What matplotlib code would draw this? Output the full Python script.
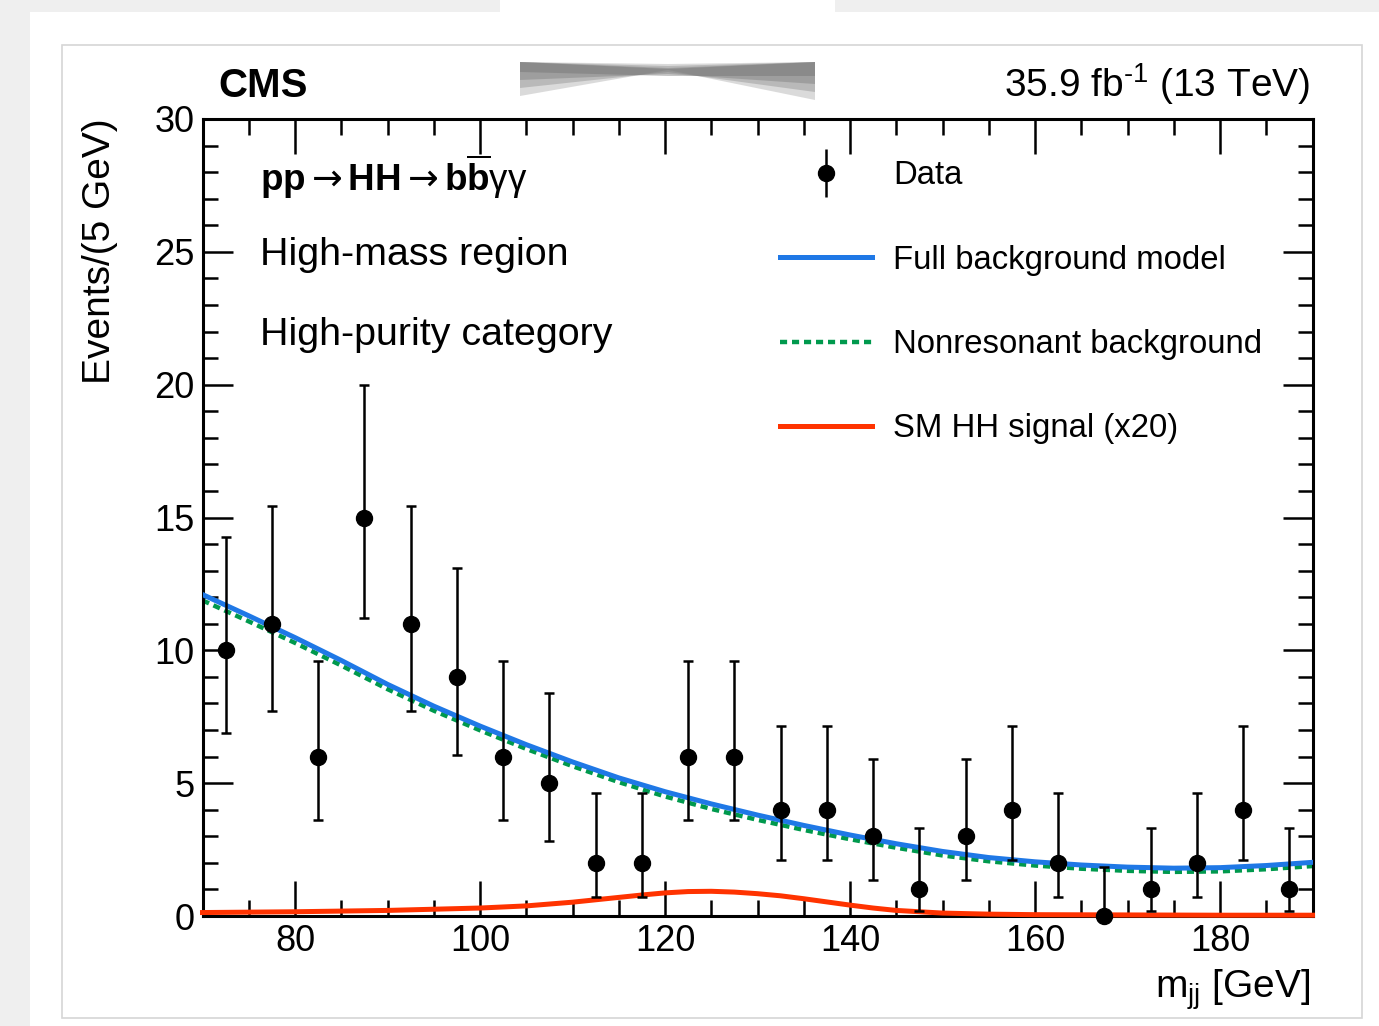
import matplotlib
matplotlib.use("Agg")
from matplotlib import pyplot as plt
from matplotlib.lines import Line2D
from matplotlib.legend_handler import HandlerTuple
from matplotlib.patches import Rectangle, FancyBboxPatch, Polygon
import numpy as np

plt.rcParams['font.family'] = ['Liberation Sans', 'DejaVu Sans']
plt.rcParams['mathtext.fontset'] = 'custom'
plt.rcParams['mathtext.rm'] = 'Liberation Sans'
plt.rcParams['mathtext.it'] = 'Liberation Sans:italic'
plt.rcParams['mathtext.bf'] = 'Liberation Sans:bold'
plt.rcParams['mathtext.sf'] = 'DejaVu Sans'

# data: events per 5 GeV bin and Poisson (Garwood) interval edges
bin_centres = [72.5, 77.5, 82.5, 87.5, 92.5, 97.5, 102.5, 107.5, 112.5, 117.5, 122.5, 127.5,
               132.5, 137.5, 142.5, 147.5, 152.5, 157.5, 162.5, 167.5, 172.5, 177.5, 182.5, 187.5]
events = [10, 11, 6, 15, 11, 9, 6, 5, 2, 2, 6, 6, 4, 4, 3, 1, 3, 4, 2, 0, 1, 2, 4, 1]
err_low = [6.89, 7.73, 3.62, 11.2, 7.73, 6.06, 3.62, 2.84, 0.71, 0.71, 3.62, 3.62,
           2.09, 2.09, 1.37, 0.17, 1.37, 2.09, 0.71, 0.0, 0.17, 0.71, 2.09, 0.17]
err_high = [14.27, 15.42, 9.58, 19.99, 15.42, 13.1, 9.58, 8.38, 4.64, 4.64, 9.58, 9.58,
            7.16, 7.16, 5.92, 3.3, 5.92, 7.16, 4.64, 1.84, 3.3, 4.64, 7.16, 3.3]

# fitted models, every 5 GeV
mjj_grid = [70, 75, 80, 85, 90, 95, 100, 105, 110, 115, 120, 125, 130,
            135, 140, 145, 150, 155, 160, 165, 170, 175, 180, 185, 190]
full_bkg = [12.1, 11.3, 10.48, 9.62, 8.72, 7.9, 7.15, 6.45, 5.8, 5.2, 4.68, 4.22, 3.8,
            3.41, 3.05, 2.72, 2.43, 2.2, 2.04, 1.92, 1.84, 1.8, 1.82, 1.9, 2.02]
nonres_bkg = [11.88, 11.09, 10.28, 9.43, 8.54, 7.73, 6.99, 6.29, 5.64, 5.04, 4.5, 4.03, 3.62,
              3.24, 2.89, 2.57, 2.28, 2.06, 1.9, 1.78, 1.7, 1.66, 1.68, 1.76, 1.88]

sig_grid = [70, 80, 90, 100, 105, 110, 112.5, 115, 117.5, 120, 122.5, 125, 127.5, 130,
            132.5, 135, 137.5, 140, 142.5, 145, 150, 155, 160, 170, 180, 190]
sm_signal = [0.13, 0.16, 0.21, 0.30, 0.38, 0.52, 0.61, 0.70, 0.79, 0.87, 0.92, 0.93, 0.90, 0.84,
             0.76, 0.65, 0.53, 0.41, 0.30, 0.21, 0.11, 0.07, 0.05, 0.04, 0.03, 0.03]

W, H = 1379, 1026
fig = plt.figure(figsize=(W / 100, H / 100), dpi=100)
fig.patch.set_facecolor('#efefef')

# screenshot card behind the plot
fig.patches.append(Rectangle((30 / W, 0), 1 - 30 / W, 1 - 12 / H, transform=fig.transFigure,
                             facecolor='white', edgecolor='none', zorder=-5))
fig.patches.append(Rectangle((62 / W, 1 - 1018 / H), 1300 / W, 973 / H, transform=fig.transFigure,
                             facecolor='white', edgecolor='#d6d6d6', lw=1.2, zorder=-4))
fig.patches.append(FancyBboxPatch((500 / W, 1 - 44 / H), 335 / W, 60 / H, transform=fig.transFigure,
                                  boxstyle='round,pad=0,rounding_size=0.012', facecolor='white',
                                  edgecolor='none', zorder=-3))
# blurred smudge under the overlay, built from a few translucent layers
for k, (top_dip, bot, a) in enumerate([(0, 100, 0.25), (2, 92, 0.3), (4, 84, 0.35), (5, 76, 0.4)]):
    fig.patches.append(Polygon([(520 / W, 1 - 62 / H), (668 / W, 1 - (64 + top_dip) / H),
                                (815 / W, 1 - 62 / H), (815 / W, 1 - bot / H),
                                (668 / W, 1 - (70 + k * 2) / H), (520 / W, 1 - (bot - 4) / H)],
                               closed=True, transform=fig.transFigure, facecolor='#6e6e6e',
                               edgecolor='none', alpha=a, zorder=-2))

ax = fig.add_axes([202.5 / W, 1 - 916 / H, 1110 / W, 797 / H])

green_dots = (0, (1.6, 1.1))
ax.plot(mjj_grid, full_bkg, color='#1f78e6', lw=3.6, zorder=3)
ax.plot(mjj_grid, nonres_bkg, color='#00994d', lw=3.2, ls=green_dots, zorder=2)
ax.plot(sig_grid, sm_signal, color='#ff3300', lw=3.6, zorder=3, clip_on=False)

ev = np.array(events, dtype=float)
yerr = [ev - np.array(err_low), np.array(err_high) - ev]
ax.errorbar(bin_centres, ev, yerr=yerr, fmt='o', color='black', ms=11.5, elinewidth=1.8,
            capsize=3.6, capthick=1.8, zorder=5, clip_on=False)

ax.set_xlim(70, 190)
ax.set_ylim(0, 30)
ax.set_xticks([80, 100, 120, 140, 160, 180])
ax.set_xticks(np.arange(70, 191, 5), minor=True)
ax.set_yticks([0, 5, 10, 15, 20, 25, 30])
ax.set_yticks(np.arange(0, 31, 1), minor=True)
for s in ax.spines.values():
    s.set_linewidth(2.2)
ax.tick_params(axis='both', which='both', direction='in', top=True, right=True,
               width=1.8, labelsize=26, pad=6)
ax.tick_params(axis='x', which='major', length=25)
ax.tick_params(axis='x', which='minor', length=11.5)
ax.tick_params(axis='y', which='major', length=21.5)
ax.tick_params(axis='y', which='minor', length=11)

ax.text(0.0518, 0.927,
        r'$\mathbf{pp}\mathsf{\rightarrow}\mathbf{HH}\mathsf{\rightarrow}\mathbf{b\overline{b}}\mathrm{\gamma\gamma}$',
        transform=ax.transAxes, fontsize=26.5, va='center', ha='left')
ax.text(0.0518, 0.829, 'High-mass region', transform=ax.transAxes, fontsize=28.4,
        va='center', ha='left')
ax.text(0.0518, 0.729, 'High-purity category', transform=ax.transAxes, fontsize=28.4,
        va='center', ha='left')

data_handle = (Line2D([], [], color='black', marker='|', ms=35, mew=1.8, ls='none'),
               Line2D([], [], color='black', marker='o', ms=11.5, ls='none'))
handles = [data_handle,
           Line2D([], [], color='#1f78e6', lw=3.6),
           Line2D([], [], color='#00994d', lw=3.2, ls=green_dots),
           Line2D([], [], color='#ff3300', lw=3.6)]
labels = ['Data', 'Full background model', 'Nonresonant background', 'SM HH signal (x20)']
ax.legend(handles, labels, loc='upper left', bbox_to_anchor=(0.5203, 0.948), frameon=False,
          fontsize=23.7, borderpad=0, borderaxespad=0, handlelength=2.8, handletextpad=0.64,
          labelspacing=1.62, numpoints=1, handler_map={tuple: HandlerTuple(ndivide=1)})

fig.text(218 / W, 1 - 97 / H, 'CMS', fontsize=29, weight='bold', ha='left', va='baseline')
fig.text(1310 / W, 1 - 97 / H, r'35.9 fb$^{\text{-1}}$ (13 TeV)', fontsize=28, ha='right', va='baseline')
fig.text(1310 / W, 1 - 998 / H, r'm$_{\mathrm{jj}}$ [GeV]', fontsize=28, ha='right', va='baseline')
fig.text(100 / W, 1 - 118 / H, 'Events/(5 GeV)', fontsize=28, rotation=90, ha='center', va='top')

fig.savefig('out.png', dpi=100, facecolor=fig.get_facecolor())
